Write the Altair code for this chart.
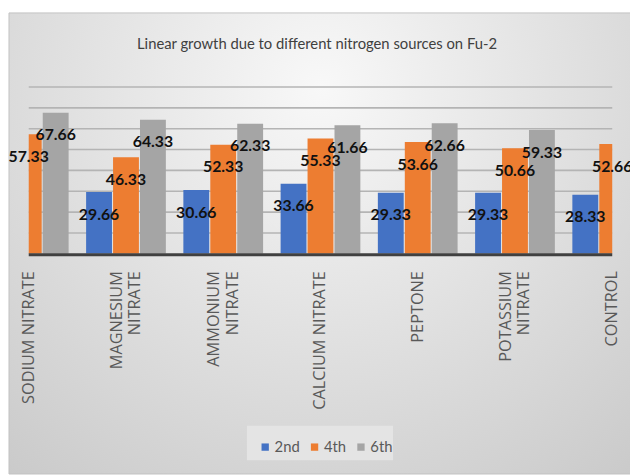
import altair as alt
import pandas as pd

categories = ["Sodium Nitrate", "Magnesium Nitrate", "Ammonium Nitrate", "Calcium Nitrate",
              "Peptone", "Potassium Nitrate", "Control"]
series_names = ["2nd", "4th", "6th"]
day2 = [None, 29.66, 30.66, 33.66, 29.33, 29.33, 28.33]
day4 = [57.33, 46.33, 52.33, 55.33, 53.66, 50.66, 52.66]
day6 = [67.66, 64.33, 62.33, 61.66, 62.66, 59.33, None]
grid_values = [10, 20, 30, 40, 50, 60, 70, 80]
colors = ["#4472C4", "#ED7D31", "#A5A5A5"]
title_text = "Linear growth due to different nitrogen sources on Fu-2"

rows = []
for s, vals in zip(series_names, [day2, day4, day6]):
    for c, v in zip(categories, vals):
        if v is not None:
            rows.append({"cat": c, "series": s, "value": v})
df = pd.DataFrame(rows)
grid_df = pd.DataFrame({"g": grid_values})
one = pd.DataFrame({"a": [0]})

W, H = 591, 169
two_line = "indexof(['Magnesium Nitrate','Ammonium Nitrate','Potassium Nitrate'], datum.value) >= 0"

x_enc = alt.X(
    "cat:N", sort=categories, title=None,
    scale=alt.Scale(range=[-49.25, 640.25], paddingInner=0.18, paddingOuter=0.09),
    axis=alt.Axis(
        labelAngle=270, labelAlign="right", labelBaseline="middle", ticks=False, domain=False,
        grid=False, labelPadding=17, labelFont="Open Sans", labelFontSize=16.5,
        labelColor="#595959", labelLineHeight=19, labelOverlap=False, labelBound=False,
        labelFlush=False, zindex=2,
        labelOffset={"condition": {"test": two_line, "value": -9.5}, "value": 0},
        labelExpr=two_line + " ? split(upper(datum.value), ' ') : upper(datum.value)",
    ),
)
xo_enc = alt.XOffset("series:N", sort=series_names, scale=alt.Scale(paddingInner=0.04))
y_scale = alt.Scale(domain=[0, 80], nice=False, zero=True)

background = alt.Chart(one).mark_rect(
    color={"gradient": "radial", "x1": 0.5, "y1": 0.25, "r1": 0, "x2": 0.5, "y2": 0.25, "r2": 0.9,
           "stops": [{"offset": 0, "color": "#f8f8f8"}, {"offset": 1, "color": "#c4c4c4"}]},
    stroke="#c2c2c2", strokeWidth=1,
).encode(x=alt.value(-20), x2=alt.value(612), y=alt.value(-75), y2=alt.value(392))

legend_box = alt.Chart(one).mark_rect(color="#e4e4e4").encode(
    x=alt.value(221), x2=alt.value(369), y=alt.value(343), y2=alt.value(378)
)

grid = alt.Chart(grid_df).mark_rule(color="#b4b4b4", strokeWidth=1.6).encode(
    y=alt.Y("g:Q", scale=y_scale, axis=None), x=alt.value(0), x2=alt.value(W)
)

bars = alt.Chart(df).mark_bar(clip=True).encode(
    x=x_enc, xOffset=xo_enc,
    y=alt.Y("value:Q", scale=y_scale, axis=None),
    color=alt.Color("series:N", sort=series_names,
                    scale=alt.Scale(domain=series_names, range=colors),
                    legend=alt.Legend(orient="none", legendX=232, legendY=357, direction="horizontal",
                                      title=None, padding=0, symbolType="square",
                                      symbolSize=55, symbolStrokeWidth=0, labelFont="Lato",
                                      labelFontSize=15, labelColor="#595959", columnPadding=7,
                                      labelOffset=2, zindex=2)),
)

baseline = alt.Chart(one).mark_rule(color="#404040", strokeWidth=3).encode(
    x=alt.value(0), x2=alt.value(W), y=alt.value(H + 1)
)

labels = alt.Chart(df).mark_text(
    baseline="middle", align="center", dy=23, font="Lato", fontSize=16, fontWeight="bold", color="#111111"
).encode(
    x=x_enc, xOffset=xo_enc,
    y=alt.Y("value:Q", scale=y_scale, axis=None),
    text=alt.Text("value:Q", format=".2f"),
)

title = alt.Chart(one).mark_text(
    text=title_text, font="Lato", fontSize=15, color="#404040", align="center", baseline="middle"
).encode(x=alt.value(292), y=alt.value(-43))

chart = alt.layer(background, legend_box, grid, bars, baseline, labels, title).properties(
    width=W, height=H,
    autosize=alt.AutoSizeParams(type="none"),
    padding={"left": 21, "top": 77, "right": 18, "bottom": 221},
    background="white",
).configure_view(stroke=None)

chart.save("out.html", embed_options={"renderer": "svg", "actions": False})
